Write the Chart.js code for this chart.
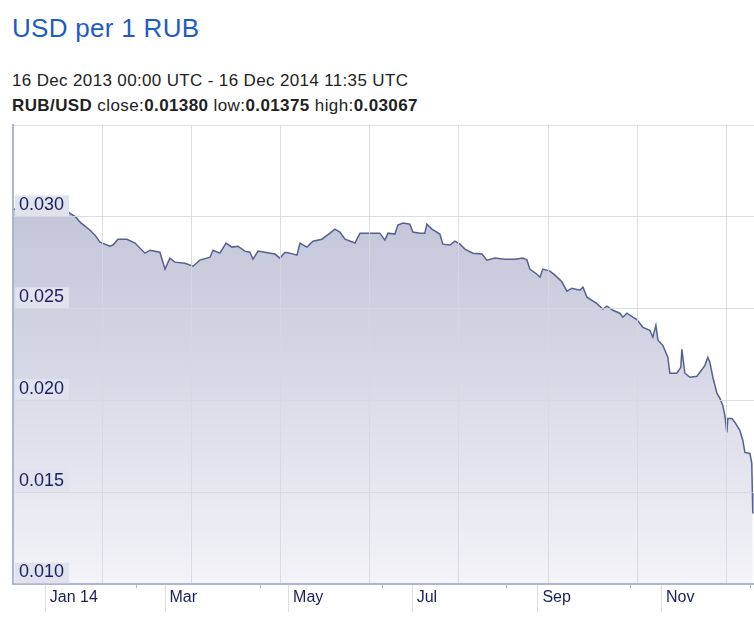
<!DOCTYPE html>
<html>
<head>
<meta charset="utf-8">
<script src="https://cdn.jsdelivr.net/npm/chart.js@4.4.0/dist/chart.umd.min.js"></script>
<style>
  body { margin: 0; background: #fff; width: 754px; height: 617px; overflow: hidden; font-family: "Liberation Sans", Arial, sans-serif; }
  .hd { position: absolute; left: 12px; white-space: nowrap; }
  #title { top: 15px; font-size: 26px; line-height: 26px; color: #1d5cc6; letter-spacing: 0.3px; }
  #range { top: 72px; font-size: 17px; line-height: 17px; color: #222; letter-spacing: 0.35px; }
  #stats { top: 97px; font-size: 17px; line-height: 17px; color: #222; letter-spacing: 0.4px; }
  #wrap { position: absolute; left: 0; top: 120px; width: 754px; height: 497px; }
</style>
</head>
<body>
<div class="hd" id="title">USD per 1 RUB</div>
<div class="hd" id="range">16 Dec 2013 00:00 UTC - 16 Dec 2014 11:35 UTC</div>
<div class="hd" id="stats"><b>RUB/USD</b> close:<b>0.01380</b> low:<b>0.01375</b> high:<b>0.03067</b></div>
<div id="wrap"><canvas id="rateChart" width="754" height="497"></canvas></div>
<script>
// 1. data (days since 16 Dec 2013, USD per 1 RUB)
const days = [
  0, 3.5, 8, 13.3, 17, 20.7, 24, 27.1, 31, 33.1, 38, 40.5, 42.9, 47.8, 49.3, 51.8, 56.2, 60.2,
  65.1, 67.6, 72.5, 75, 77.4, 79.9, 84.8, 88.8, 92.2, 97.2, 98.7, 102.1, 105.1, 108, 111, 114.4,
  116.9, 118.4, 120.9, 124.3, 129.2, 131.7, 134.2, 136.6, 140.1, 141.6, 145, 148, 152.4, 156.4,
  158.8, 161.3, 163.8, 168.7, 171.2, 176.1, 181, 183.5, 185, 188.4, 189.9, 192.4, 195.8, 197.3,
  200.8, 203.2, 204.2, 206.7, 210.6, 212.1, 215.6, 218, 220.5, 223, 226.9, 231.4, 233.8, 237.8,
  242.7, 247.6, 251.6, 253.6, 255, 258.5, 260, 261.4, 264.9, 267.4, 270.8, 273.3, 275.8, 279.7,
  281.2, 283.2, 288.1, 291, 293, 296, 299.4, 300.9, 302.9, 305.8, 307.8, 310.8, 314.2, 315.7,
  317.2, 318.2, 320.6, 323.1, 324.1, 327.5, 329.5, 330, 331.5, 334, 337.4, 338.9, 341.4, 342.8,
  343.8, 345.3, 347.3, 348.8, 350.2, 351.2, 352.2, 352.7, 354.7, 356.2, 358.6, 360.1, 361.1,
  363.6, 364.5, 364.8, 365
];
const rates = [
  0.03042, 0.03036, 0.03042, 0.03031, 0.03036, 0.03031, 0.03036, 0.03026, 0.02998, 0.02971, 0.02927, 0.02900, 0.02862, 0.02840, 0.02846, 0.02878, 0.02878, 0.02857,
  0.02802, 0.02818, 0.02807, 0.02715, 0.02775, 0.02753, 0.02747, 0.02731, 0.02764, 0.02780, 0.02818, 0.02802, 0.02857, 0.02835, 0.02840, 0.02813,
  0.02807, 0.02769, 0.02813, 0.02807, 0.02797, 0.02775, 0.02807, 0.02802, 0.02791, 0.02857, 0.02835, 0.02867, 0.02878, 0.02911,
  0.02933, 0.02917, 0.02878, 0.02857, 0.02911, 0.02911, 0.02911, 0.02873, 0.02911, 0.02906, 0.02955, 0.02966, 0.02960, 0.02917,
  0.02911, 0.02911, 0.02960, 0.02933, 0.02906, 0.02851, 0.02846, 0.02867, 0.02851, 0.02824, 0.02802, 0.02797, 0.02764, 0.02775,
  0.02769, 0.02769, 0.02775, 0.02764, 0.02715, 0.02687, 0.02671, 0.02715, 0.02704, 0.02682, 0.02646, 0.02595, 0.02611, 0.02600,
  0.02617, 0.02562, 0.02527, 0.02497, 0.02513, 0.02491, 0.02475, 0.02453, 0.02475, 0.02453, 0.02440, 0.02398, 0.02382, 0.02344,
  0.02409, 0.02328, 0.02300, 0.02235, 0.02148, 0.02148, 0.02180, 0.02279, 0.02148, 0.02126, 0.02131, 0.02153, 0.02191, 0.02235,
  0.02208, 0.02126, 0.02039, 0.02011, 0.01973, 0.01919, 0.01826, 0.01902, 0.01902, 0.01880, 0.01837, 0.01782, 0.01717,
  0.01711, 0.01657, 0.01499, 0.01384
];

// 2. axis ticks
const yTicks = [0.010, 0.015, 0.020, 0.025, 0.030, 0.035];
const gridDays = [44, 88, 132, 176, 220, 264, 308, 352];
const monthDays = [16, 75, 136, 197, 259, 320];
const monthLabels = ['Jan 14', 'Mar', 'May', 'Jul', 'Sep', 'Nov'];
const minorDays = [61, 122, 182.5, 243.5, 304.5, 364];
const X_MIN = 0, X_MAX = 365.6;

const FONT = 'Liberation Sans, Arial, sans-serif';
const AXIS_LINE = '#b0b5cf';
const GRID = 'rgba(214,215,223,0.85)';
const LABEL = '#1a1f5c';

function fillGradient(c) {
  const area = c.chart.chartArea;
  if (!area) return '#d4d6e4';
  const g = c.chart.ctx.createLinearGradient(0, area.top, 0, area.bottom);
  g.addColorStop(0, '#b9bdd4');
  g.addColorStop(0.45, '#d1d3e2');
  g.addColorStop(1, '#f3f3f8');
  return g;
}

// 3. chart
new Chart(document.getElementById('rateChart'), {
  type: 'line',
  data: {
    datasets: [{
      data: days.map((d, i) => ({ x: d, y: rates[i] })),
      borderColor: '#56618f',
      borderWidth: 1.5,
      pointRadius: 0,
      tension: 0,
      fill: 'start',
      backgroundColor: fillGradient,
      xAxisID: 'x',
      yAxisID: 'y'
    }]
  },
  options: {
    responsive: false,
    devicePixelRatio: 1,
    animation: false,
    events: [],
    layout: { padding: { top: 5, left: 13, right: 0, bottom: 0 } },
    plugins: { legend: { display: false }, tooltip: { enabled: false } },
    scales: {
      y: {
        type: 'linear',
        position: 'left',
        min: 0.010,
        max: 0.035,
        afterBuildTicks: s => { s.ticks = yTicks.map(v => ({ value: v })); },
        afterFit: s => { s.width = 0; s.paddingTop = 0; s.paddingBottom = 0; },
        grid: { color: GRID, lineWidth: 1, drawTicks: false, z: 1 },
        border: { display: true, color: AXIS_LINE, width: 2, z: 1 },
        ticks: {
          z: 2,
          mirror: true,
          padding: 6,
          labelOffset: -11.5,
          color: LABEL,
          font: { family: FONT, size: 18 },
          callback: v => v > 0.034 ? '' : v.toFixed(3),
          showLabelBackdrop: c => c.tick.value < 0.034,
          backdropColor: c => c.tick.value < 0.034 ? '#e0e2ee' : 'rgba(0,0,0,0)',
          backdropPadding: { top: -1, bottom: 0, left: 4, right: 5 }
        }
      },
      x: {
        type: 'linear',
        position: 'bottom',
        weight: 0,
        min: X_MIN,
        max: X_MAX,
        afterBuildTicks: s => { s.ticks = gridDays.map(v => ({ value: v })); },
        afterFit: s => { s.height = 0; s.paddingLeft = 0; s.paddingRight = 0; },
        grid: { color: GRID, lineWidth: 1, drawTicks: false, z: 1 },
        border: { display: false },
        ticks: { display: false }
      },
      xt: {
        type: 'linear',
        position: 'bottom',
        weight: 1,
        min: X_MIN,
        max: X_MAX,
        afterBuildTicks: s => { s.ticks = minorDays.map(v => ({ value: v })); },
        afterFit: s => { s.height = 0; s.paddingLeft = 0; s.paddingRight = 0; },
        grid: { drawOnChartArea: false, drawTicks: true, tickLength: 4, tickColor: AXIS_LINE, tickWidth: 1, z: 1 },
        border: { display: false },
        ticks: { display: false }
      },
      xm: {
        type: 'linear',
        position: 'bottom',
        weight: 2,
        min: X_MIN,
        max: X_MAX,
        afterBuildTicks: s => { s.ticks = monthDays.map(v => ({ value: v })); },
        afterFit: s => { s.height = 33; s.paddingLeft = 0; s.paddingRight = 0; },
        grid: { drawOnChartArea: false, drawTicks: true, tickLength: 28, tickColor: '#dcdce2', tickWidth: 1 },
        border: { display: true, color: AXIS_LINE, width: 2, z: 1 },
        ticks: {
          autoSkip: false,
          maxRotation: 0,
          align: 'start',
          padding: -24,
          color: LABEL,
          font: { family: FONT, size: 16 },
          callback: (v, i) => ' ' + monthLabels[i]
        }
      }
    }
  }
});
</script>
</body>
</html>
